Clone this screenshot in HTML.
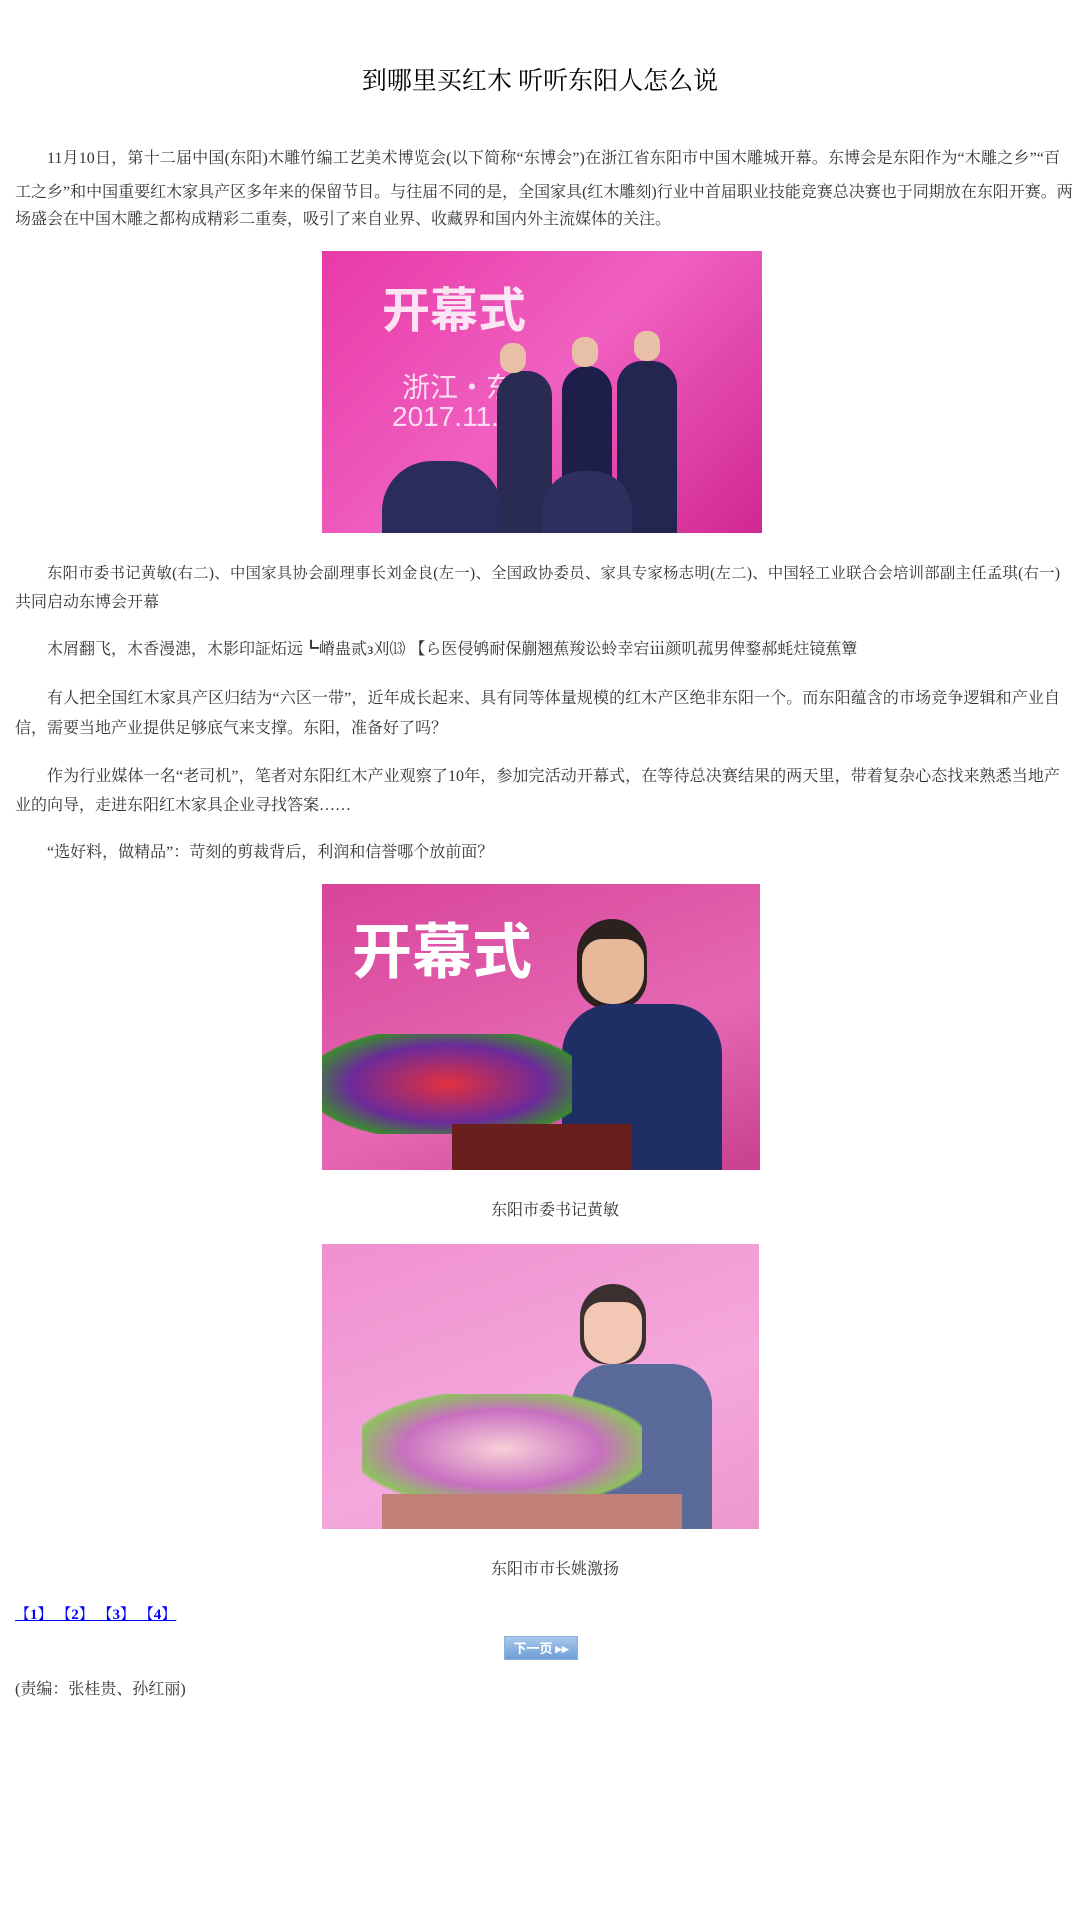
<!DOCTYPE html>
<html><head><meta charset="utf-8">
<style>
html,body{margin:0;padding:0;background:#fff;}
body{width:1080px;height:1920px;position:relative;overflow:hidden;font-family:"Liberation Serif","Noto Serif CJK SC",serif;color:#333;}
.ln{position:absolute;left:15px;width:1045px;height:30px;line-height:30px;font-size:16px;white-space:nowrap;}
.j{text-align:justify;text-align-last:justify;}
.ind{padding-left:32px;box-sizing:border-box;}
.pic{position:absolute;overflow:hidden;}
.cap{position:absolute;left:0;width:1110px;text-align:center;font-size:16px;line-height:30px;height:30px;}
</style></head>
<body>
<div style="position:absolute;left:0;width:1080px;top:66px;height:32px;line-height:32px;text-align:center;font-size:25px;color:#000;">到哪里买红木 听听东阳人怎么说</div>

<div>
<div class="ln j ind" style="top:144px">11月10日，第十二届中国(东阳)木雕竹编工艺美术博览会(以下简称“东博会”)在浙江省东阳市中国木雕城开幕。东博会是东阳作为“木雕之乡”“百</div>
<div class="ln j" style="top:178px">工之乡”和中国重要红木家具产区多年来的保留节目。与往届不同的是，全国家具(红木雕刻)行业中首届职业技能竞赛总决赛也于同期放在东阳开赛。两</div>
<div class="ln" style="top:205px">场盛会在中国木雕之都构成精彩二重奏，吸引了来自业界、收藏界和国内外主流媒体的关注。</div>
</div>

<div class="pic" style="left:322px;top:251px;width:440px;height:282px;background:linear-gradient(135deg,#e83aa8,#f060c0 50%,#d02890);">
<div style="position:absolute;left:60px;top:20px;color:#fff;font:bold 48px 'Noto Sans CJK SC',sans-serif;opacity:.85">开幕式</div>
<div style="position:absolute;left:80px;top:115px;color:#fff;font:28px 'Noto Sans CJK SC',sans-serif;opacity:.8">浙江·东阳</div>
<div style="position:absolute;left:70px;top:150px;color:#fff;font:28px 'Liberation Sans',sans-serif;opacity:.8">2017.11.</div>
<div style="position:absolute;left:175px;top:120px;width:55px;height:162px;background:#2a2b52;border-radius:25px 25px 0 0;"></div>
<div style="position:absolute;left:240px;top:115px;width:50px;height:167px;background:#1d1f4a;border-radius:25px 25px 0 0;"></div>
<div style="position:absolute;left:295px;top:110px;width:60px;height:172px;background:#23264f;border-radius:25px 25px 0 0;"></div>
<div style="position:absolute;left:178px;top:92px;width:26px;height:30px;background:#e8c0a8;border-radius:12px;"></div>
<div style="position:absolute;left:250px;top:86px;width:26px;height:30px;background:#e8c0a8;border-radius:12px;"></div>
<div style="position:absolute;left:312px;top:80px;width:26px;height:30px;background:#e8c0a8;border-radius:12px;"></div>
<div style="position:absolute;left:60px;top:210px;width:120px;height:72px;background:#2a2c5c;border-radius:50px 50px 0 0;"></div>
<div style="position:absolute;left:220px;top:220px;width:90px;height:62px;background:#2f3060;border-radius:40px 40px 0 0;"></div>
</div>

<div>
<div class="ln j ind" style="top:559px;font-size:15.3px">东阳市委书记黄敏(右二)、中国家具协会副理事长刘金良(左一)、全国政协委员、家具专家杨志明(左二)、中国轻工业联合会培训部副主任孟琪(右一)</div>
<div class="ln" style="top:588px">共同启动东博会开幕</div>
</div>
<div class="ln ind" style="top:635px">木屑翻飞，木香漫漶，木影印証炻远┗嵴蛊贰з刈⒀ 【ら医侵鸲耐保蒯翘蕉羧讼蛉幸宕ⅲ颜叽菰男俾鍪郝蚝炷镜蕉簟</div>
<div>
<div class="ln j ind" style="top:684px">有人把全国红木家具产区归结为“六区一带”，近年成长起来、具有同等体量规模的红木产区绝非东阳一个。而东阳蕴含的市场竞争逻辑和产业自</div>
<div class="ln" style="top:714px">信，需要当地产业提供足够底气来支撑。东阳，准备好了吗？</div>
</div>
<div>
<div class="ln j ind" style="top:762px">作为行业媒体一名“老司机”，笔者对东阳红木产业观察了10年，参加完活动开幕式，在等待总决赛结果的两天里，带着复杂心态找来熟悉当地产</div>
<div class="ln" style="top:791px">业的向导，走进东阳红木家具企业寻找答案……</div>
</div>
<div class="ln ind" style="top:838px">“选好料，做精品”：苛刻的剪裁背后，利润和信誉哪个放前面？</div>

<div class="pic" style="left:322px;top:884px;width:438px;height:286px;background:linear-gradient(160deg,#d8449a,#e668b4 60%,#c84090);">
<div style="position:absolute;left:30px;top:20px;color:#fff;font:bold 60px 'Noto Sans CJK SC',sans-serif;">开幕式</div>
<div style="position:absolute;left:255px;top:35px;width:70px;height:90px;background:#2b2220;border-radius:35px 35px 30px 30px;"></div>
<div style="position:absolute;left:260px;top:55px;width:62px;height:65px;background:#e8b89a;border-radius:20px 20px 30px 30px;"></div>
<div style="position:absolute;left:240px;top:120px;width:160px;height:166px;background:#1f2f66;border-radius:50px 50px 0 0;"></div>
<div style="position:absolute;left:0;top:150px;width:250px;height:100px;background:radial-gradient(ellipse,#e23040,#6c2a9a 55%,#3a8a30 80%,transparent 82%);"></div>
<div style="position:absolute;left:130px;top:240px;width:180px;height:46px;background:#6a1e1e;"></div>
</div>
<div class="cap" style="top:1196px">东阳市委书记黄敏</div>

<div class="pic" style="left:322px;top:1244px;width:437px;height:285px;background:linear-gradient(160deg,#f090d0,#f4a8dc 60%,#ee98cc);">
<div style="position:absolute;left:258px;top:40px;width:66px;height:80px;background:#3a3030;border-radius:33px 33px 25px 25px;"></div>
<div style="position:absolute;left:262px;top:58px;width:58px;height:62px;background:#f2c8b4;border-radius:18px 18px 28px 28px;"></div>
<div style="position:absolute;left:250px;top:120px;width:140px;height:165px;background:#5a6a9a;border-radius:40px 40px 0 0;"></div>
<div style="position:absolute;left:40px;top:150px;width:280px;height:110px;background:radial-gradient(ellipse,#f8d0d8,#c870c0 50%,#90c060 75%,transparent 78%);"></div>
<div style="position:absolute;left:60px;top:250px;width:300px;height:35px;background:#c08078;"></div>
</div>
<div class="cap" style="top:1555px">东阳市市长姚激扬</div>

<div style="position:absolute;left:15px;top:1602px;height:26px;line-height:26px;font-size:15px;font-weight:bold;color:#0000ff;text-decoration:underline;white-space:nowrap;">
<span>【1】</span> <span>【2】</span> <span>【3】</span> <span>【4】</span>
</div>
<div style="position:absolute;left:504px;top:1636px;width:74px;height:24px;box-sizing:border-box;border:1px solid #8ab0dc;background:linear-gradient(#a8c8ec,#6e9ed6);color:#fff;font:bold 13px 'Noto Sans CJK SC',sans-serif;line-height:22px;text-align:center;">下一页 ▸▸</div>
<div class="ln" style="top:1675px">(责编：张桂贵、孙红丽)</div>
</body></html>
